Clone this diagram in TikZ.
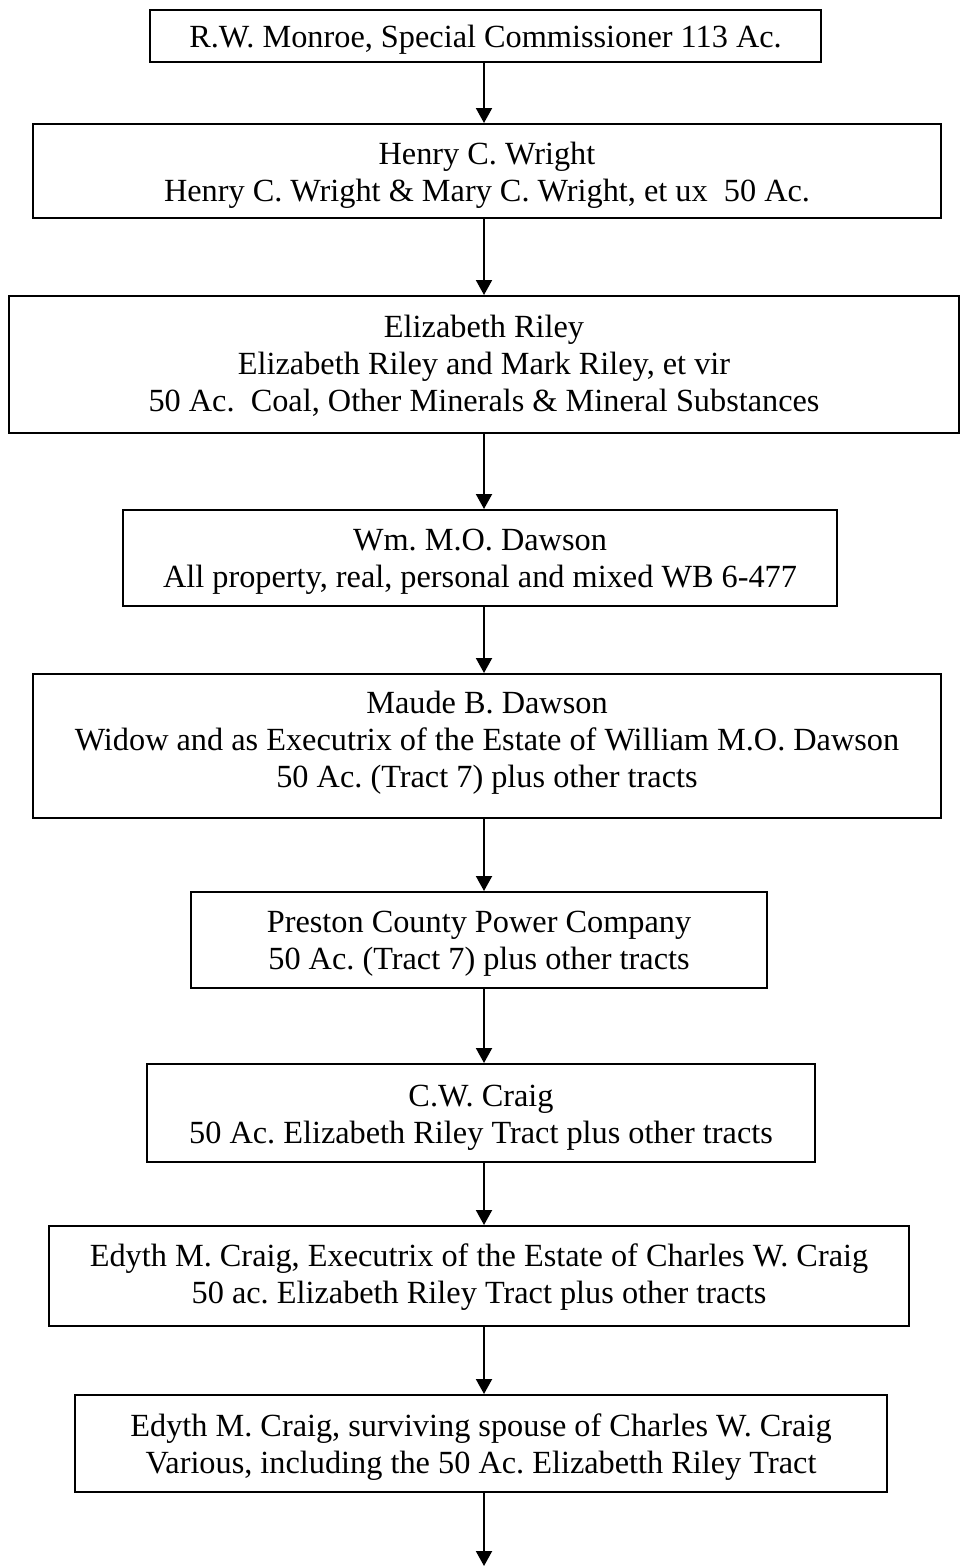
\documentclass[tikz,border=0pt]{standalone}
\usepackage{fontspec}
\setmainfont{Liberation Serif}
\usetikzlibrary{arrows.meta}
\frenchspacing
\begin{document}
\begin{tikzpicture}[x=1pt,y=-1pt,
  deed/.style={draw=black, line width=2pt, inner sep=0pt},
  deedtext/.style={inner sep=0pt, align=center,
    font=\fontsize{32.3pt}{37pt}\selectfont},
  link/.style={line width=2pt, -{Triangle[width=16pt,length=15pt]}}]
\useasboundingbox (0,0) rectangle (960,1566);

% chain of title: frames
\node[deed, minimum width=671, minimum height=52]  (b1) at (485.5,36) {};
\node[deed, minimum width=908, minimum height=94]  (b2) at (487,171) {};
\node[deed, minimum width=950, minimum height=137] (b3) at (484,364.5) {};
\node[deed, minimum width=714, minimum height=96]  (b4) at (480,558) {};
\node[deed, minimum width=908, minimum height=144] (b5) at (487,746) {};
\node[deed, minimum width=576, minimum height=96]  (b6) at (479,940) {};
\node[deed, minimum width=668, minimum height=98]  (b7) at (481,1113) {};
\node[deed, minimum width=860, minimum height=100] (b8) at (479,1276) {};
\node[deed, minimum width=812, minimum height=97]  (b9) at (481,1443.5) {};

% chain of title: entries
\node[deedtext, yshift=-4pt] (t1) at (b1)
  {R.W. Monroe, Special Commissioner 113 Ac.};
\node[deedtext, yshift=-4pt] (t2) at (b2)
  {Henry C. Wright\\Henry C. Wright \& Mary C. Wright, et ux\ \ 50 Ac.};
\node[deedtext, yshift=-1pt] (t3) at (b3)
  {Elizabeth Riley\\Elizabeth Riley and Mark Riley, et vir\\50 Ac.\ \ Coal, Other Minerals \& Mineral Substances};
\node[deedtext, yshift=-4pt] (t4) at (b4)
  {Wm. M.O. Dawson\\All property, real, personal and mixed WB 6-477};
\node[deedtext, yshift=3pt] (t5) at (b5)
  {Maude B. Dawson\\Widow and as Executrix of the Estate of William M.O. Dawson\\50 Ac. (Tract 7) plus other tracts};
\node[deedtext, yshift=-4pt] (t6) at (b6)
  {Preston County Power Company\\50 Ac. (Tract 7) plus other tracts};
\node[deedtext, yshift=-5pt] (t7) at (b7)
  {C.W. Craig\\50 Ac. Elizabeth Riley Tract plus other tracts};
\node[deedtext, yshift=-1pt] (t8) at (b8)
  {Edyth M. Craig, Executrix of the Estate of Charles W. Craig\\50 ac. Elizabeth Riley Tract plus other tracts};
\node[deedtext, yshift=-4pt] (t9) at (b9)
  {Edyth M. Craig, surviving spouse of Charles W. Craig\\Various, including the 50 Ac. Elizabetth Riley Tract};

% connectors
\coordinate (ax) at (484,0);
\coordinate (tail) at (484,1566);
\draw[link] (b1.south -| ax) -- (b2.north -| ax);
\draw[link] (b2.south -| ax) -- (b3.north -| ax);
\draw[link] (b3.south -| ax) -- (b4.north -| ax);
\draw[link] (b4.south -| ax) -- (b5.north -| ax);
\draw[link] (b5.south -| ax) -- (b6.north -| ax);
\draw[link] (b6.south -| ax) -- (b7.north -| ax);
\draw[link] (b7.south -| ax) -- (b8.north -| ax);
\draw[link] (b8.south -| ax) -- (b9.north -| ax);
\draw[link] (b9.south -| ax) -- (tail);
\end{tikzpicture}
\end{document}
